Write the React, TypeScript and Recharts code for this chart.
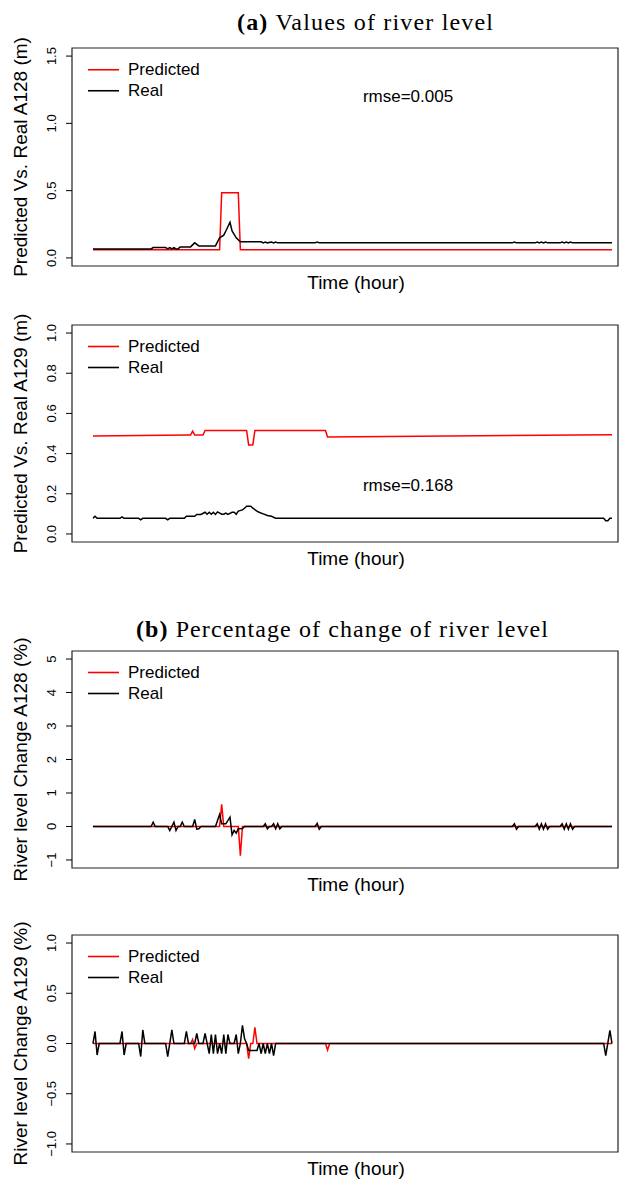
import React from 'react';
import { LineChart, Line, XAxis, YAxis, ReferenceArea, Legend } from 'recharts';

type Pt = [number, number];

// time axis (hours)
const hourDomain: [number, number] = [-10.1, 252.9];

// (a) river level values, A128
const pred128: Pt[] = [[0, 0.06], [61, 0.06], [62, 0.484], [70, 0.484], [71, 0.06], [250, 0.06]];
const real128: Pt[] = [
  [0, 0.067], [28, 0.067], [29, 0.077], [35, 0.077], [36, 0.067], [37, 0.077], [38, 0.067], [39, 0.077],
  [40, 0.067], [41, 0.067], [42, 0.082], [47, 0.082], [49, 0.112], [51, 0.089], [59, 0.089], [61, 0.149],
  [63, 0.169], [64, 0.2], [66, 0.265], [67, 0.2], [69, 0.149], [71, 0.12], [81, 0.12], [82, 0.112],
  [83, 0.118], [84, 0.112], [86, 0.118], [87, 0.112], [88, 0.118], [89, 0.112], [107, 0.112], [108, 0.118],
  [109, 0.112], [202, 0.112], [203, 0.118], [204, 0.112], [213, 0.112], [214, 0.118], [215, 0.112],
  [216, 0.118], [217, 0.112], [218, 0.118], [219, 0.112], [225, 0.112], [226, 0.118], [227, 0.112],
  [228, 0.118], [229, 0.112], [230, 0.118], [231, 0.112], [250, 0.112],
];

// (a) river level values, A129
const pred129: Pt[] = [
  [0, 0.487], [46, 0.492], [47, 0.492], [48, 0.512], [49, 0.492], [53, 0.492], [54, 0.515], [74, 0.515],
  [75, 0.443], [77, 0.443], [78, 0.515], [112, 0.515], [113, 0.483], [250, 0.494],
];
const real129: Pt[] = [
  [0, 0.078], [1, 0.088], [2, 0.078], [13, 0.078], [14, 0.085], [15, 0.078], [22, 0.078], [23, 0.07],
  [24, 0.078], [35, 0.078], [36, 0.07], [37, 0.078], [44, 0.078], [45, 0.088], [49, 0.088], [50, 0.097],
  [52, 0.097], [54, 0.108], [55, 0.098], [56, 0.108], [57, 0.098], [58, 0.108], [59, 0.097], [60, 0.11],
  [62, 0.098], [63, 0.098], [64, 0.104], [65, 0.097], [67, 0.108], [68, 0.108], [69, 0.098], [70, 0.114],
  [72, 0.12], [73, 0.128], [74, 0.138], [76, 0.138], [77, 0.128], [79, 0.114], [80, 0.108], [82, 0.1],
  [84, 0.092], [86, 0.088], [88, 0.078], [246, 0.078], [247, 0.066], [248, 0.066], [249, 0.078], [250, 0.078],
];

// (b) percentage of change, A128
const predPct128: Pt[] = [[0, 0], [61, 0], [62, 0.66], [63, 0], [70, 0], [71, -0.87], [72, 0], [250, 0]];
const realPct128: Pt[] = [
  [0, 0], [28, 0], [29, 0.13], [30, 0], [36, 0], [37, -0.12], [38, 0], [39, 0.13], [40, -0.12], [41, 0],
  [42, 0], [43, 0.13], [44, 0], [48, 0], [49, 0.21], [50, -0.08], [51, -0.07], [52, 0], [59, 0], [61, 0.36],
  [62, 0.08], [64, 0.08], [66, 0.28], [67, -0.25], [68, -0.12], [69, -0.2], [70, -0.07], [72, -0.06], [73, 0],
  [82, 0], [83, 0.08], [84, -0.07], [85, 0], [86, 0], [87, 0.08], [88, -0.07], [89, 0.08], [90, -0.07], [91, 0],
  [107, 0], [108, 0.09], [109, -0.08], [110, 0], [202, 0], [203, 0.08], [204, -0.08], [205, 0], [213, 0],
  [214, 0.08], [215, -0.08], [216, 0.08], [217, -0.08], [218, 0.08], [219, -0.08], [220, 0], [225, 0],
  [226, 0.08], [227, -0.08], [228, 0.08], [229, -0.08], [230, 0.08], [231, -0.08], [232, 0], [250, 0],
];

// (b) percentage of change, A129
const predPct129: Pt[] = [
  [0, 0], [47, 0], [48, 0.04], [49, -0.05], [50, 0], [74, 0], [75, -0.15], [76, 0], [77, 0], [78, 0.16],
  [79, 0], [112, 0], [113, -0.065], [114, 0], [250, 0],
];
const realPct129: Pt[] = [
  [0, 0], [1, 0.12], [2, -0.115], [3, 0], [13, 0], [14, 0.12], [15, -0.115], [16, 0], [22, 0], [23, -0.13],
  [24, 0.135], [25, 0], [35, 0], [36, -0.13], [38, 0.135], [39, 0], [44, 0], [45, 0.12], [46, 0], [49, 0],
  [50, 0.1], [51, 0], [53, 0], [54, 0.1], [55, 0], [56, -0.1], [57, 0.09], [58, -0.1], [59, 0.09], [60, -0.1],
  [61, 0], [62, -0.1], [63, 0.09], [64, -0.1], [65, 0.09], [66, 0], [68, 0], [69, 0.09], [70, -0.1], [71, 0],
  [72, 0.18], [73, 0.05], [74, 0], [75, -0.07], [79, -0.07], [80, 0], [81, -0.1], [82, 0], [83, -0.1],
  [84, 0], [85, -0.1], [86, 0], [87, -0.12], [88, 0], [246, 0], [247, -0.12], [249, 0.13], [250, 0],
];

// ticks
const ticksLevel128 = [0, 0.5, 1, 1.5];
const labelsLevel128 = ['0.0', '0.5', '1.0', '1.5'];
const ticksLevel129 = [0, 0.2, 0.4, 0.6, 0.8, 1];
const labelsLevel129 = ['0.0', '0.2', '0.4', '0.6', '0.8', '1.0'];
const ticksPct128 = [-1, 0, 1, 2, 3, 4, 5];
const labelsPct128 = ['\u22121', '0', '1', '2', '3', '4', '5'];
const ticksPct129 = [-1, -0.5, 0, 0.5, 1];
const labelsPct129 = ['\u22121.0', '\u22120.5', '0.0', '0.5', '1.0'];

const SANS = "'Liberation Sans', Arial, Helvetica, sans-serif";
const SERIF = "'Liberation Serif', 'Times New Roman', serif";
const RED = '#ff0000';
const BLACK = '#000000';

const toRows = (pts: Pt[]) => pts.map(([t, v]) => ({ t, v }));

type PanelSpec = {
  boxTop: number;
  boxHeight: number;
  yDomain: [number, number];
  ticks: number[];
  labels: string[];
  pred: Pt[];
  real: Pt[];
  yTitle: string;
  rmse?: string;
  legendGap: number;
};

const panels: PanelSpec[] = [
  { boxTop: 48, boxHeight: 218, yDomain: [-0.06, 1.56], ticks: ticksLevel128, labels: labelsLevel128, pred: pred128, real: real128, yTitle: 'Predicted Vs. Real A128 (m)', rmse: 'rmse=0.005', legendGap: 21.5 },
  { boxTop: 325, boxHeight: 217, yDomain: [-0.04, 1.04], ticks: ticksLevel129, labels: labelsLevel129, pred: pred129, real: real129, yTitle: 'Predicted Vs. Real A129 (m)', rmse: 'rmse=0.168', legendGap: 21 },
  { boxTop: 651, boxHeight: 217, yDomain: [-1.24, 5.24], ticks: ticksPct128, labels: labelsPct128, pred: predPct128, real: realPct128, yTitle: 'River level Change A128 (%)', legendGap: 21 },
  { boxTop: 935, boxHeight: 217, yDomain: [-1.08, 1.08], ticks: ticksPct129, labels: labelsPct129, pred: predPct129, real: realPct129, yTitle: 'River level Change A129 (%)', legendGap: 21 },
];

const PAD = 10;
const AXIS_W = 72;

const makeTick = (ticks: number[], labels: string[]) => (props: any) => {
  const { y, payload } = props;
  const idx = ticks.findIndex((t) => Math.abs(t - payload.value) < 1e-9);
  const text = idx >= 0 ? labels[idx] : String(payload.value);
  const bx = 56;
  return (
    <text x={bx} y={y} transform={`rotate(-90 ${bx} ${y})`} textAnchor="middle" fontSize={13} fontFamily={SANS} fill="#000">
      {text}
    </text>
  );
};

const makeLegend = (gap: number) => (props: any) => {
  const items = (props.payload || []) as any[];
  return (
    <div style={{ fontFamily: SANS, fontSize: 17, color: '#000' }}>
      {items.map((e) => (
        <div key={e.value} style={{ display: 'flex', alignItems: 'center', height: gap, lineHeight: `${gap}px` }}>
          <svg width={31} height={gap} style={{ display: 'block' }}>
            <line x1={0} x2={31} y1={gap / 2} y2={gap / 2} stroke={e.color} strokeWidth={1.6} />
          </svg>
          <span style={{ marginLeft: 9, whiteSpace: 'nowrap' }}>{e.value}</span>
        </div>
      ))}
    </div>
  );
};

const Panel: React.FC<{ spec: PanelSpec }> = ({ spec }) => {
  const h = spec.boxHeight + PAD * 2;
  return (
    <div style={{ position: 'absolute', left: 0, top: spec.boxTop - PAD, width: 619, height: h }}>
      <LineChart width={619} height={h} margin={{ top: PAD, right: 1, bottom: PAD, left: 0 }}>
        <XAxis dataKey="t" type="number" domain={hourDomain} allowDataOverflow hide />
        <YAxis
          type="number"
          domain={spec.yDomain}
          allowDataOverflow
          ticks={spec.ticks}
          interval={0}
          width={AXIS_W}
          axisLine={false}
          tickLine={{ stroke: '#000', strokeWidth: 1 }}
          tickSize={6}
          tick={makeTick(spec.ticks, spec.labels)}
        />
        <ReferenceArea
          x1={hourDomain[0]}
          x2={hourDomain[1]}
          y1={spec.yDomain[0]}
          y2={spec.yDomain[1]}
          fill="none"
          fillOpacity={0}
          stroke="#222"
          strokeWidth={1.2}
          ifOverflow="visible"
        />
        <Legend
          layout="vertical"
          align="center"
          verticalAlign="middle"
          wrapperStyle={{ position: 'absolute', left: 88, top: PAD + 21.5 - spec.legendGap / 2, width: 'auto' }}
          content={makeLegend(spec.legendGap)}
        />
        <Line data={toRows(spec.pred)} dataKey="v" name="Predicted" type="linear" stroke={RED} strokeWidth={1.5} dot={false} activeDot={false} isAnimationActive={false} />
        <Line data={toRows(spec.real)} dataKey="v" name="Real" type="linear" stroke={BLACK} strokeWidth={1.5} dot={false} activeDot={false} isAnimationActive={false} />
      </LineChart>
    </div>
  );
};

const Overlay: React.FC = () => (
  <svg width={619} height={1180} style={{ position: 'absolute', left: 0, top: 0, pointerEvents: 'none' }}>
    <text x={237} y={30} fontFamily={SERIF} fontSize={24} fill="#000" textLength={256} lengthAdjust="spacing">
      <tspan fontWeight="bold">(a)</tspan>
      <tspan dx={7}>Values of river level</tspan>
    </text>
    <text x={136} y={637} fontFamily={SERIF} fontSize={24} fill="#000" textLength={412} lengthAdjust="spacing">
      <tspan fontWeight="bold">(b)</tspan>
      <tspan dx={7}>Percentage of change of river level</tspan>
    </text>
    {panels.map((p, i) => {
      const cy = p.boxTop + p.boxHeight / 2;
      return (
        <g key={i}>
          <text x={27} y={cy} transform={`rotate(-90 27 ${cy})`} textAnchor="middle" fontFamily={SANS} fontSize={19} fill="#000">
            {p.yTitle}
          </text>
          <text x={356} y={p.boxTop + p.boxHeight + 23} textAnchor="middle" fontFamily={SANS} fontSize={19} fill="#000">
            Time (hour)
          </text>
        </g>
      );
    })}
    <text x={408} y={102} textAnchor="middle" fontFamily={SANS} fontSize={17} fill="#000">{panels[0].rmse}</text>
    <text x={408} y={490.5} textAnchor="middle" fontFamily={SANS} fontSize={17} fill="#000">{panels[1].rmse}</text>
  </svg>
);

export default function App() {
  return (
    <div style={{ position: 'absolute', left: 0, top: 0, width: 619, height: 1180, background: '#fff', overflow: 'hidden' }}>
      {panels.map((p, i) => (
        <Panel key={i} spec={p} />
      ))}
      <Overlay />
    </div>
  );
}
